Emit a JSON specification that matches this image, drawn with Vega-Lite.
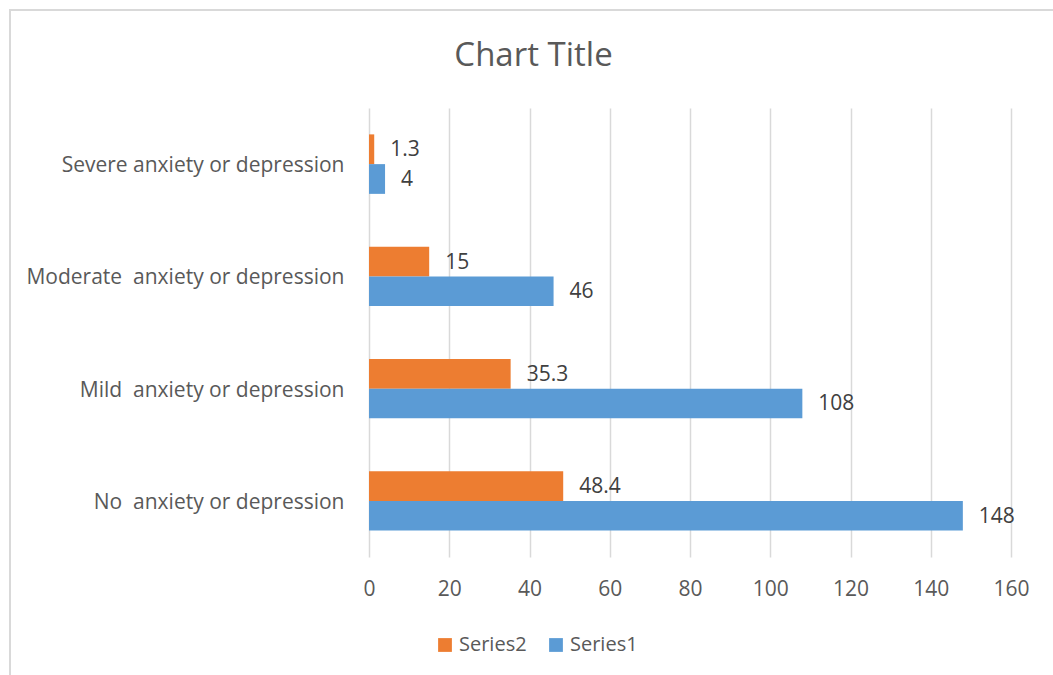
{
  "$schema": "https://vega.github.io/schema/vega-lite/v6.json",
  "autosize": "none",
  "padding": {"left": 10, "top": 10, "right": -20, "bottom": -20},
  "width": 1063,
  "height": 685,
  "background": "white",
  "title": {
    "text": "Chart Title",
    "font": "Open Sans",
    "fontSize": 33,
    "fontWeight": "normal",
    "color": "#595959",
    "anchor": "middle",
    "frame": "group",
    "baseline": "alphabetic",
    "offset": -89,
    "dx": -8
  },
  "data": {
    "values": [
      {"category": "Severe anxiety or depression", "series": "Series2", "value": 1.3},
      {"category": "Severe anxiety or depression", "series": "Series1", "value": 4},
      {"category": "Moderate \u00a0anxiety or depression", "series": "Series2", "value": 15},
      {"category": "Moderate \u00a0anxiety or depression", "series": "Series1", "value": 46},
      {"category": "Mild \u00a0anxiety or depression", "series": "Series2", "value": 35.3},
      {"category": "Mild \u00a0anxiety or depression", "series": "Series1", "value": 108},
      {"category": "No \u00a0anxiety or depression", "series": "Series2", "value": 48.4},
      {"category": "No \u00a0anxiety or depression", "series": "Series1", "value": 148}
    ]
  },
  "encoding": {
    "y": {
      "field": "category",
      "type": "nominal",
      "sort": [
        "Severe anxiety or depression",
        "Moderate \u00a0anxiety or depression",
        "Mild \u00a0anxiety or depression",
        "No \u00a0anxiety or depression"
      ],
      "scale": {"range": [98, 547], "paddingInner": 0.47, "paddingOuter": 0.235},
      "axis": {
        "title": null,
        "orient": "left",
        "offset": -359,
        "domain": false,
        "ticks": false,
        "grid": false,
        "labelPadding": 25,
        "labelOffset": 2,
        "labelLimit": 0,
        "labelFont": "Open Sans",
        "labelFontSize": 21,
        "labelColor": "#595959"
      }
    },
    "yOffset": {
      "field": "series",
      "type": "nominal",
      "sort": ["Series2", "Series1"]
    },
    "x": {
      "field": "value",
      "type": "quantitative",
      "scale": {"domain": [0, 160], "range": [359, 1001], "nice": false},
      "axis": {
        "title": null,
        "orient": "top",
        "offset": -579,
        "values": [0, 20, 40, 60, 80, 100, 120, 140, 160],
        "domain": false,
        "ticks": false,
        "grid": true,
        "gridColor": "#d9d9d9",
        "gridWidth": 1.5,
        "labelPadding": 0,
        "labelBaseline": "middle",
        "labelFlush": false,
        "labelOverlap": false,
        "labelFont": "Open Sans",
        "labelFontSize": 21,
        "labelColor": "#595959"
      }
    }
  },
  "layer": [
    {
      "mark": {"type": "bar"},
      "encoding": {
        "color": {
          "field": "series",
          "type": "nominal",
          "scale": {"domain": ["Series2", "Series1"], "range": ["#ED7D31", "#5B9BD5"]},
          "legend": {
            "title": null,
            "orient": "none",
            "direction": "horizontal",
            "legendX": 425,
            "legendY": 625,
            "symbolType": "square",
            "symbolSize": 190,
            "symbolStrokeWidth": 0,
            "symbolOpacity": 1,
            "labelFont": "Open Sans",
            "labelFontSize": 20,
            "labelColor": "#595959",
            "labelOffset": 4,
            "columnPadding": 19
          }
        }
      }
    },
    {
      "mark": {
        "type": "text",
        "align": "left",
        "baseline": "middle",
        "dx": 16,
        "dy": 1,
        "font": "Open Sans",
        "fontSize": 21,
        "color": "#404040"
      },
      "encoding": {
        "text": {"field": "value", "type": "quantitative"}
      }
    }
  ],
  "config": {
    "view": {"stroke": "#d9d9d9", "strokeWidth": 2},
    "bar": {"fillOpacity": 1}
  }
}
